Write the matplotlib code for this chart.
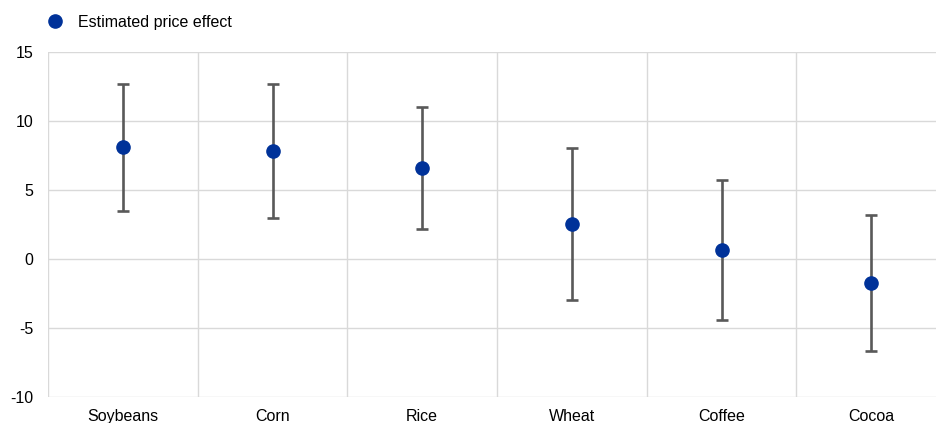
import numpy as np
from matplotlib import pyplot as plt

plt.rcParams['font.family'] = ['Liberation Sans', 'DejaVu Sans']
plt.rcParams['axes.unicode_minus'] = False

categories = ['Soybeans', 'Corn', 'Rice', 'Wheat', 'Coffee', 'Cocoa']
effect = [8.1, 7.85, 6.6, 2.55, 0.65, -1.75]
upper = [12.7, 12.65, 11.05, 8.05, 5.7, 3.2]
lower = [3.5, 3.0, 2.15, -2.95, -4.45, -6.7]

blue = '#003299'
grey = '#595959'
gridc = '#d9d9d9'

fig = plt.figure(figsize=(9.36, 4.23), dpi=100)
ax = fig.add_axes([48/936, 1 - 397/423, 898/936, 345/423])

x = np.arange(len(categories))
eff = np.array(effect)
yerr = [eff - np.array(lower), np.array(upper) - eff]
ax.errorbar(x, eff, yerr=yerr, fmt='none', ecolor=grey, elinewidth=1.9,
            capsize=4.5, capthick=1.9, zorder=2)
ax.plot(x, eff, 'o', color=blue, markersize=9.5, zorder=3,
        label='Estimated price effect')

ax.set_xlim(-0.5, len(categories) - 0.5)
ax.set_ylim(-10, 15)
ax.set_yticks(np.arange(-10, 16, 5))
ax.set_xticks(x)
ax.set_xticklabels(categories)
ax.set_xticks(np.arange(-0.5, len(categories), 1), minor=True)

for s in ax.spines.values():
    s.set_visible(False)
ax.grid(axis='y', which='major', color=gridc, linewidth=1)
ax.grid(axis='x', which='minor', color=gridc, linewidth=1)
ax.tick_params(axis='both', which='both', length=0, labelsize=11.5,
               colors='black')
ax.tick_params(axis='y', pad=10.5)
ax.tick_params(axis='x', pad=8.5)
ax.set_axisbelow(True)

fig.legend(loc='center left', bbox_to_anchor=(48/936, 1 - 22/423),
           frameon=False, fontsize=11.5, handlelength=0.9,
           handletextpad=1.0, borderaxespad=0, borderpad=0)

fig.savefig('out.png', dpi=100)
